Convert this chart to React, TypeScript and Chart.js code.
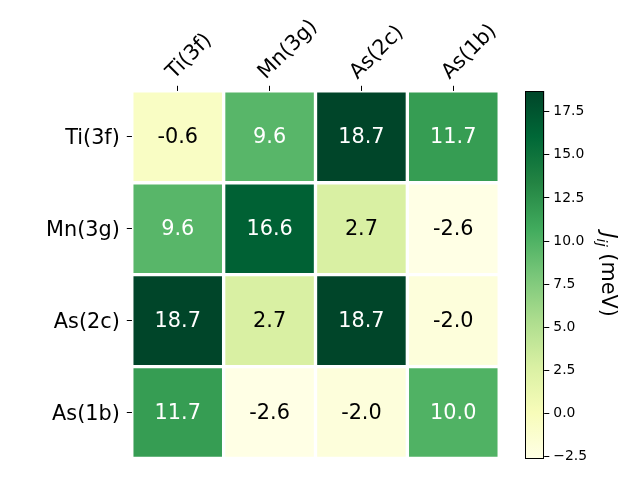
import React, { useEffect, useRef } from "react";
import { Chart, registerables } from "chart.js";

Chart.register(...registerables);

// ---- data ----
const rowLabels = ["Ti(3f)", "Mn(3g)", "As(2c)", "As(1b)"];
const colLabels = ["Ti(3f)", "Mn(3g)", "As(2c)", "As(1b)"];
const rowTi3f = [-0.6, 9.6, 18.7, 11.7];
const rowMn3g = [9.6, 16.6, 2.7, -2.6];
const rowAs2c = [18.7, 2.7, 18.7, -2.0];
const rowAs1b = [11.7, -2.6, -2.0, 10.0];
const values = [rowTi3f, rowMn3g, rowAs2c, rowAs1b];
const vmin = -2.6;
const vmax = 18.7;
const cbTicks = [-2.5, 0, 2.5, 5, 7.5, 10, 12.5, 15, 17.5];
const cbTitleMain = "J";
const cbTitleSub = "ij";
const cbTitleUnit = " (meV)";

// YlGn colormap (ColorBrewer 9-class)
const YLGN = [
  [255, 255, 229],
  [247, 252, 185],
  [217, 240, 163],
  [173, 221, 142],
  [120, 198, 121],
  [65, 171, 93],
  [35, 132, 67],
  [0, 104, 55],
  [0, 69, 41],
];
const rgb = (c: number[]) => `rgb(${Math.round(c[0])},${Math.round(c[1])},${Math.round(c[2])})`;
function ylgn(t: number): string {
  const tt = Math.max(0, Math.min(1, t));
  const s = tt * (YLGN.length - 1);
  const i = Math.min(YLGN.length - 2, Math.floor(s));
  const f = s - i;
  const a = YLGN[i];
  const b = YLGN[i + 1];
  return rgb([a[0] + (b[0] - a[0]) * f, a[1] + (b[1] - a[1]) * f, a[2] + (b[2] - a[2]) * f]);
}
const norm = (v: number) => (v - vmin) / (vmax - vmin);

const FONT = "'DejaVu Sans', 'Liberation Sans', sans-serif";
const BIG = 20.8;

const cellLabels = {
  id: "cellLabels",
  afterDatasetsDraw(chart: any) {
    const ctx = chart.ctx;
    ctx.save();
    ctx.font = `${BIG}px ${FONT}`;
    ctx.textAlign = "center";
    ctx.textBaseline = "middle";
    chart.data.datasets.forEach((_ds: any, i: number) => {
      const meta = chart.getDatasetMeta(i);
      meta.data.forEach((el: any, j: number) => {
        const v = values[i][j];
        ctx.fillStyle = norm(v) > 0.5 ? "#ffffff" : "#000000";
        const cy = (el.y + el.base) / 2;
        ctx.fillText(v.toFixed(1), el.x, cy + 1);
      });
    });
    ctx.restore();
  },
};

const cbOutline = {
  id: "cbOutline",
  afterDatasetsDraw(chart: any) {
    const a = chart.chartArea;
    const ctx = chart.ctx;
    ctx.save();
    ctx.strokeStyle = "#000";
    ctx.lineWidth = 1;
    ctx.strokeRect(Math.round(a.left) + 0.5, Math.round(a.top) + 0.5, Math.round(a.right - a.left) - 1, Math.round(a.bottom - a.top));
    ctx.restore();
  },
};

const cbTitle = {
  id: "cbTitle",
  afterDraw(chart: any) {
    const a = chart.chartArea;
    const ctx = chart.ctx;
    const sub = BIG * 0.7;
    const fIt = `italic ${BIG}px ${FONT}`;
    const fSub = `italic ${sub}px ${FONT}`;
    const fMain = `${BIG}px ${FONT}`;
    ctx.save();
    ctx.font = fIt;
    const wJ = ctx.measureText(cbTitleMain).width;
    ctx.font = fSub;
    const wS = ctx.measureText(cbTitleSub).width;
    ctx.font = fMain;
    const wU = ctx.measureText(cbTitleUnit).width;
    const total = wJ + wS + wU;
    const cy = (a.top + a.bottom) / 2;
    ctx.translate(92, cy - total / 2);
    ctx.rotate(Math.PI / 2);
    ctx.fillStyle = "#000";
    ctx.textAlign = "left";
    ctx.textBaseline = "alphabetic";
    ctx.font = fIt;
    ctx.fillText(cbTitleMain, 0, 0);
    ctx.font = fSub;
    ctx.fillText(cbTitleSub, wJ, BIG * 0.22);
    ctx.font = fMain;
    ctx.fillText(cbTitleUnit, wJ + wS, 0);
    ctx.restore();
  },
};

export default function App() {
  const heatRef = useRef<HTMLCanvasElement>(null);
  const cbRef = useRef<HTMLCanvasElement>(null);

  useEffect(() => {
    const datasets = values.map((row, i) => ({
      label: rowLabels[i],
      data: row.map(() => [i, i + 1]),
      backgroundColor: row.map((v) => ylgn(norm(v))),
      borderColor: "#ffffff",
      borderWidth: 2,
      borderSkipped: false,
      grouped: false,
      barPercentage: 1,
      categoryPercentage: 1,
    }));

    const tickFont = { family: FONT, size: BIG };

    const heat = new Chart(heatRef.current as HTMLCanvasElement, {
      type: "bar",
      data: { labels: colLabels, datasets: datasets as any },
      options: {
        animation: false,
        responsive: false,
        events: [],
        layout: { padding: { left: 0, top: 0, right: 10.8, bottom: 21.5 } },
        plugins: { legend: { display: false }, tooltip: { enabled: false } },
        scales: {
          x: {
            type: "category",
            position: "top",
            offset: true,
            grid: { offset: false, drawOnChartArea: false, drawTicks: true, tickLength: 5, color: "#000", lineWidth: 1 },
            border: { display: false },
            ticks: { maxRotation: 45, minRotation: 45, autoSkip: false, padding: 1, labelOffset: 10, color: "#000", font: tickFont },
            afterFit: (s: any) => {
              s.height = 90.8;
              s.paddingLeft = 0;
              s.paddingRight = 0;
            },
          },
          y: {
            type: "linear",
            min: 0,
            max: rowLabels.length,
            reverse: true,
            afterBuildTicks: (s: any) => {
              s.ticks = rowLabels.map((_, i) => ({ value: i + 0.5 }));
            },
            grid: { drawOnChartArea: false, drawTicks: true, tickLength: 5, color: "#000", lineWidth: 1 },
            border: { display: false },
            ticks: {
              padding: 7,
              labelOffset: 2,
              color: "#000",
              font: tickFont,
              callback: (v: any) => rowLabels[Math.floor(Number(v))],
            },
            afterFit: (s: any) => {
              s.width = 131.8;
              s.paddingTop = 0;
              s.paddingBottom = 0;
            },
          },
        },
      },
      plugins: [cellLabels],
    });

    const cb = new Chart(cbRef.current as HTMLCanvasElement, {
      type: "bar",
      data: {
        labels: ["cb"],
        datasets: [
          {
            data: [[vmin, vmax]] as any,
            backgroundColor: (c: any) => {
              const chart = c.chart;
              const ys = chart.scales && chart.scales.y;
              if (!chart.chartArea || !ys) return ylgn(0.5);
              const g = chart.ctx.createLinearGradient(0, ys.getPixelForValue(vmin), 0, ys.getPixelForValue(vmax));
              YLGN.forEach((col, k) => g.addColorStop(k / (YLGN.length - 1), rgb(col)));
              return g;
            },
            borderWidth: 0,
            barPercentage: 1,
            categoryPercentage: 1,
          },
        ],
      },
      options: {
        animation: false,
        responsive: false,
        events: [],
        layout: { padding: { left: 15, right: 0, top: 91, bottom: 21.7 } },
        plugins: { legend: { display: false }, tooltip: { enabled: false } },
        scales: {
          x: { display: false, offset: true },
          y: {
            position: "right",
            min: vmin,
            max: vmax,
            afterBuildTicks: (s: any) => {
              s.ticks = cbTicks.map((v) => ({ value: v }));
            },
            grid: { drawOnChartArea: false, drawTicks: true, tickLength: 5, color: "#000", lineWidth: 1 },
            border: { display: false },
            ticks: {
              padding: 4,
              color: "#000",
              font: { family: FONT, size: 13.9 },
              callback: (v: any) => {
                const n = Number(v);
                const s = Math.abs(n).toFixed(1);
                return n < 0 ? "\u2212" + s : s;
              },
            },
            afterFit: (s: any) => {
              s.width = 130 - 34.3;
              s.paddingTop = 0;
              s.paddingBottom = 0;
            },
          },
        },
      },
      plugins: [cbOutline, cbTitle],
    });

    return () => {
      heat.destroy();
      cb.destroy();
    };
  }, []);

  return (
    <div style={{ position: "fixed", left: 0, top: 0, width: 640, height: 480, background: "#fff" }}>
      <canvas ref={heatRef} width={510} height={480} style={{ position: "absolute", left: 0, top: 0, width: 510, height: 480 }} />
      <canvas ref={cbRef} width={130} height={480} style={{ position: "absolute", left: 510, top: 0, width: 130, height: 480 }} />
    </div>
  );
}
